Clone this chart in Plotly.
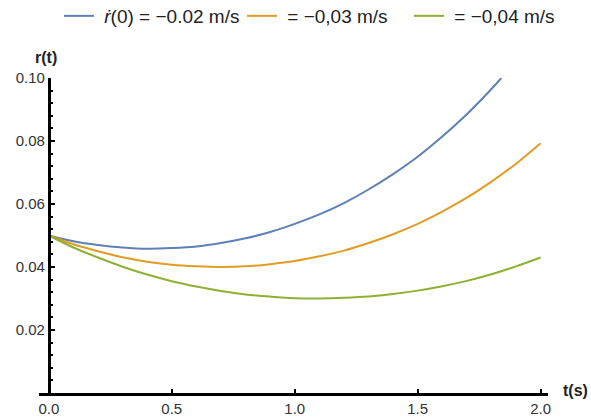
import plotly.graph_objects as go

# time samples (s)
t = [0.0, 0.1, 0.2, 0.3, 0.4, 0.5, 0.6, 0.7, 0.8, 0.9, 1.0,
     1.1, 1.2, 1.3, 1.4, 1.5, 1.6, 1.7, 1.8, 1.9, 2.0]
t_blue = [0.0, 0.1, 0.2, 0.3, 0.4, 0.5, 0.6, 0.7, 0.8, 0.9, 1.0,
          1.1, 1.2, 1.3, 1.4, 1.5, 1.6, 1.7, 1.8, 1.84]

r_002 = [0.0500, 0.0482, 0.0470, 0.0462, 0.0458, 0.0460, 0.0465, 0.0476, 0.0491, 0.0511,
         0.0537, 0.0567, 0.0603, 0.0646, 0.0695, 0.0750, 0.0814, 0.0885, 0.0965, 0.1000]
r_003 = [0.0500, 0.0472, 0.0450, 0.0431, 0.0417, 0.0407, 0.0402, 0.0400, 0.0402, 0.0409,
         0.0419, 0.0434, 0.0452, 0.0476, 0.0504, 0.0537, 0.0576, 0.0620, 0.0671, 0.0728, 0.0793]
r_004 = [0.0500, 0.0462, 0.0430, 0.0401, 0.0376, 0.0355, 0.0338, 0.0324, 0.0313, 0.0306,
         0.0301, 0.0300, 0.0302, 0.0306, 0.0314, 0.0325, 0.0339, 0.0356, 0.0377, 0.0402, 0.0430]

names = ["<i>ṙ</i>(0) = −0.02 m/s", "= −0,03 m/s", "= −0,04 m/s"]
colors = ["#5E81B5", "#E19C24", "#8FB032"]

x_ticks = [0.0, 0.5, 1.0, 1.5, 2.0]
x_labels = ["0.0", "0.5", "1.0", "1.5", "2.0"]
y_ticks = [0.02, 0.04, 0.06, 0.08, 0.10]
y_labels = ["0.02", "0.04", "0.06", "0.08", "0.10"]

W, H = 591, 419
legend_ids = ["legend", "legend2", "legend3"]
legend_left_px = [59, 242, 409]

NB = "\u00a0"
fig = go.Figure()
series = [(t_blue, r_002), (t, r_003), (t, r_004)]
for (xs, ys), nm, c, lid in zip(series, names, colors, legend_ids):
    fig.add_trace(go.Scatter(x=xs, y=ys, mode="lines", name=NB + nm, legend=lid,
                             line=dict(color=c, width=2, shape="spline"),
                             cliponaxis=True))

legend_style = dict(orientation="h", xref="container", yref="container",
                    xanchor="left", y=1 - 16 / H, yanchor="middle",
                    font=dict(size=19, color="#222"), bgcolor="rgba(0,0,0,0)",
                    itemwidth=30)
legends = {lid: dict(legend_style, x=px / W) for lid, px in zip(legend_ids, legend_left_px)}

xmin, xmax = -0.04, 2.03
ypos = (0 - xmin) / (xmax - xmin)
fig.update_layout(
    width=W, height=H,
    margin=dict(l=39, r=43, t=78, b=26, autoexpand=False),
    paper_bgcolor="white", plot_bgcolor="white",
    font=dict(family="Liberation Sans, Arial, sans-serif", color="#222"),
    showlegend=True,
    xaxis=dict(range=[xmin, xmax], showgrid=False, zeroline=False,
               showline=True, linewidth=3, linecolor="black",
               tickvals=x_ticks, ticktext=x_labels, ticks="inside", ticklen=4,
               tickwidth=2, tickcolor="black", ticklabelstandoff=0,
               tickfont=dict(size=15, color="#333")),
    yaxis=dict(range=[0, 0.10], showgrid=False, zeroline=False,
               anchor="free", position=ypos,
               showline=True, linewidth=3, linecolor="black",
               tickvals=y_ticks, ticktext=y_labels, ticks="inside", ticklen=4,
               tickwidth=2, tickcolor="black",
               minor=dict(tickmode="linear", tick0=0, dtick=0.004, ticks="inside",
                          ticklen=2, tickwidth=1.5, tickcolor="black"),
               tickfont=dict(size=15, color="#333")),
    **legends,
)

fig.add_annotation(text="<b>r(t)</b>", xref="paper", yref="paper",
                   x=ypos, y=1, xanchor="center", yanchor="middle",
                   xshift=-3, yshift=21,
                   showarrow=False, font=dict(size=16, color="#222"))
fig.add_annotation(text="<b>t(s)</b>", xref="paper", yref="paper",
                   x=1, y=0, xanchor="left", yanchor="middle", xshift=13, yshift=3,
                   showarrow=False, font=dict(size=16, color="#222"))

fig.write_html("out.html")
